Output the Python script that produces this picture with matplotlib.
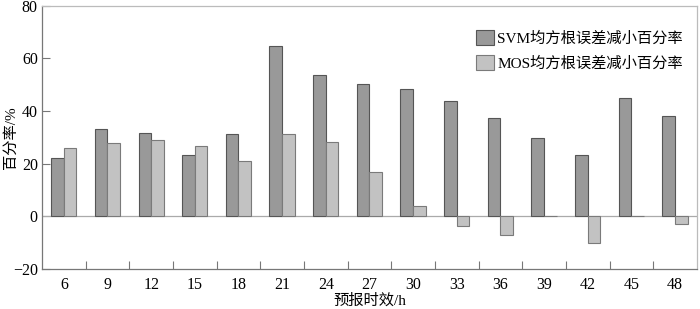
import matplotlib.pyplot as plt
import numpy as np

plt.rcParams['font.family'] = ['Liberation Serif', 'Noto Sans CJK SC']
plt.rcParams['axes.unicode_minus'] = True

hours = [6, 9, 12, 15, 18, 21, 24, 27, 30, 33, 36, 39, 42, 45, 48]
svm = [22.1, 33.2, 31.6, 23.3, 31.1, 64.8, 53.8, 50.1, 48.3, 43.7, 37.2, 29.9, 23.4, 44.9, 38.0]
mos = [26.0, 27.7, 28.9, 26.8, 21.1, 31.1, 28.2, 17.0, 4.0, -3.7, -7.2, 0.0, -10.2, 0.0, -2.8]

fig = plt.figure(figsize=(7, 3.09), dpi=100)
ax = fig.add_axes([0.06, 0.1294, 0.9357, 0.852])

x = np.arange(len(hours))
w = 0.29
ax.bar(x - w / 2, svm, w, color='#999999', edgecolor='#555555', linewidth=0.8,
       label='SVM均方根误差减小百分率', zorder=3)
ax.bar(x + w / 2, mos, w, color='#c2c2c2', edgecolor='#7a7a7a', linewidth=0.8,
       label='MOS均方根误差减小百分率', zorder=3)

ax.axhline(0, color='#aaaaaa', linewidth=0.9, zorder=2)

ax.set_xlim(-0.5, len(hours) - 0.5)
ax.set_ylim(-20, 80)
ax.set_yticks([-20, 0, 20, 40, 60, 80])
ax.set_xticks(x)
ax.set_xticklabels([str(h) for h in hours])
ax.set_xticks(np.arange(0.5, len(hours) - 0.5, 1), minor=True)
ax.tick_params(axis='x', which='major', length=0, pad=6, labelsize=11.5)
ax.tick_params(axis='x', which='minor', direction='in', length=6, color='#777777', width=0.8)
ax.tick_params(axis='y', direction='in', length=6, color='#777777', width=0.8, labelsize=11.5, pad=3)

for side in ['left', 'bottom']:
    ax.spines[side].set_color('#777777')
    ax.spines[side].set_linewidth(0.9)
for side in ['top', 'right']:
    ax.spines[side].set_color('#bbbbbb')
    ax.spines[side].set_linewidth(0.9)

ax.set_xlabel('预报时效/h', fontsize=11, labelpad=0)
ax.set_ylabel('百分率/%', fontsize=11)
ax.yaxis.set_label_coords(-0.037, 0.5)

ax.legend(loc='upper right', bbox_to_anchor=(0.995, 0.95), frameon=False, fontsize=11,
          handlelength=1.2, handleheight=1.2, handletextpad=0.2, labelspacing=0.6,
          borderaxespad=0.3)

fig.savefig('out.png', dpi=100)
